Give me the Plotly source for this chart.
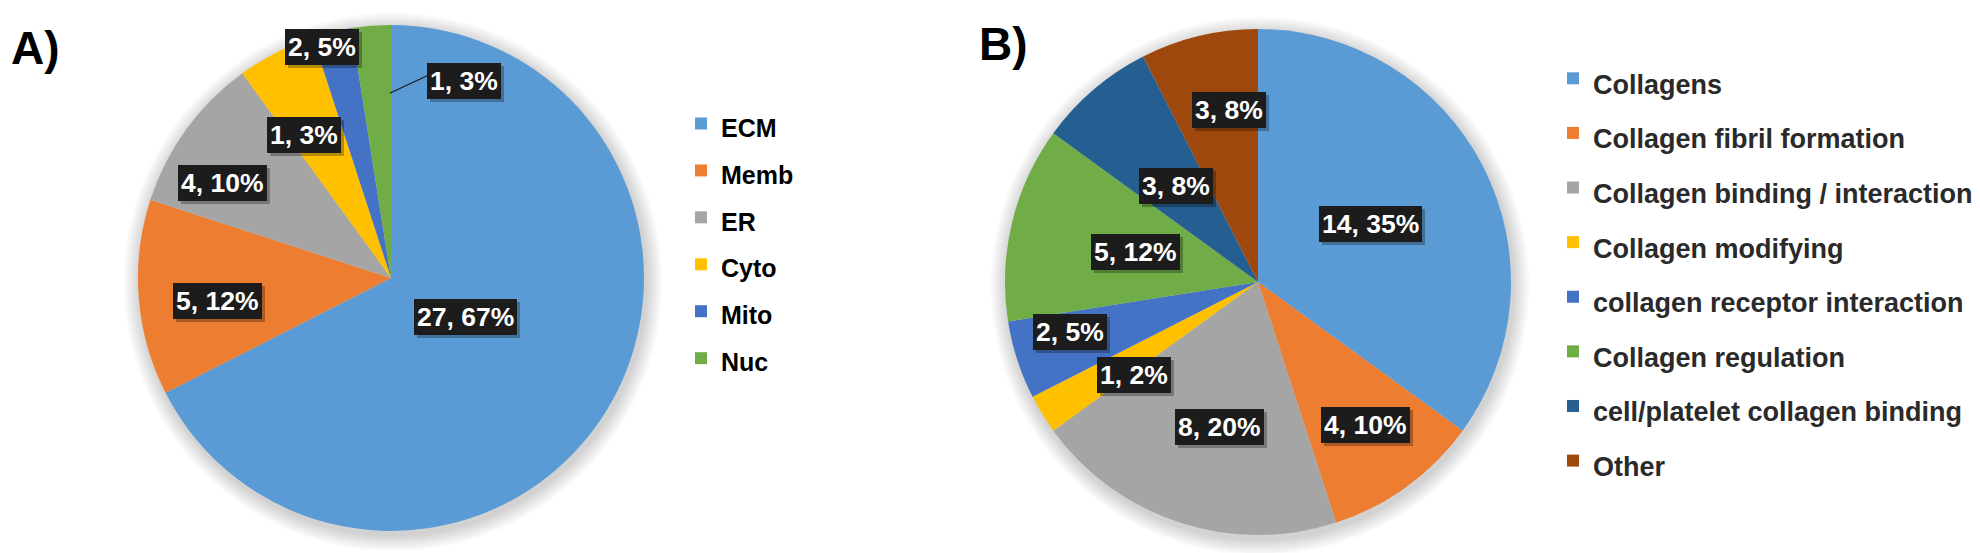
import math
import plotly.graph_objects as go

# ---------------- data ----------------
labels_a = ["ECM", "Memb", "ER", "Cyto", "Mito", "Nuc"]
counts_a = [27, 5, 4, 2, 1, 1]
pct_a = [67, 12, 10, 5, 3, 3]

labels_b = ["Collagens", "Collagen fibril formation", "Collagen binding / interaction",
            "Collagen modifying", "collagen receptor interaction", "Collagen regulation",
            "cell/platelet collagen binding", "Other"]
counts_b = [14, 4, 8, 1, 2, 5, 3, 3]
pct_b = [35, 10, 20, 2, 5, 12, 8, 8]

panel_titles = ["A)", "B)"]

# ---------------- style ----------------
colors_a = ["#5B9BD5", "#ED7D31", "#A5A5A5", "#FFC000", "#4472C4", "#70AD47"]
colors_b = ["#5B9BD5", "#ED7D31", "#A5A5A5", "#FFC000", "#4472C4", "#70AD47", "#255E91", "#9E480E"]

W, H = 1980, 553
FONT = "Liberation Sans, Arial, sans-serif"
PIE_A = dict(cx=383, cy=270, r=253)
PIE_B = dict(cx=1250, cy=274, r=253)
LABEL_SIZE = 26.5
# label placement: angle offset from slice mid-angle (deg) and radial fraction
lab_off_a = [(-4, 0.334), (-3, 0.69), (-6.5, 0.763), (10.3, 0.953), (-17.7, 0.663), (24.9, 0.83)]
lab_off_b = [(-0.4, 0.50), (-1, 0.708), (-3.1, 0.593), (-5.4, 0.613), (3.1, 0.769),
             (0.2, 0.50), (0, 0.50), (3.8, 0.69)]


def px2paper(x, y):
    return x / W, 1 - y / H


def domain(p):
    x0, y0 = px2paper(p["cx"] - p["r"], p["cy"] + p["r"])
    x1, y1 = px2paper(p["cx"] + p["r"], p["cy"] - p["r"])
    return dict(x=[x0, x1], y=[y0, y1])


def mid_angles(vals):
    tot = sum(vals)
    out, c = [], 0
    for v in vals:
        out.append((c + v / 2) / tot * 360)
        c += v
    return out


fig = go.Figure()
fig.add_trace(go.Pie(
    labels=[f'<span style="font-size:25px">{l}</span>' for l in labels_a],
    values=counts_a, sort=False, direction="clockwise", rotation=0,
    marker=dict(colors=colors_a, line=dict(width=0)), textinfo="none",
    domain=domain(PIE_A), legend="legend", hoverinfo="label+value+percent"))
fig.add_trace(go.Pie(
    labels=[f'<span style="font-size:27px">{l}</span>' for l in labels_b],
    values=counts_b, sort=False, direction="clockwise", rotation=0,
    marker=dict(colors=colors_b, line=dict(width=0)), textinfo="none",
    domain=domain(PIE_B), legend="legend2", hoverinfo="label+value+percent"))

shapes = []
annotations = []

# soft shadows behind pies
for p in (PIE_A, PIE_B):
    for k in range(1, 10):
        rr = p["r"] + k * 1.8
        cx, cy = p["cx"] + 2, p["cy"] + 4
        x0, y0 = px2paper(cx - rr, cy + rr)
        x1, y1 = px2paper(cx + rr, cy - rr)
        shapes.append(dict(type="circle", xref="paper", yref="paper", layer="below",
                           x0=x0, x1=x1, y0=y0, y1=y1, line=dict(width=0),
                           fillcolor="rgba(0,0,0,0.02)"))


def add_labels(p, counts, pcts, offs):
    mids = mid_angles(counts)
    pos = []
    for c, pc, m, (da, fr) in zip(counts, pcts, mids, offs):
        th = math.radians(m + da)
        x = p["cx"] + fr * p["r"] * math.sin(th)
        y = p["cy"] - fr * p["r"] * math.cos(th)
        xp, yp = px2paper(x, y)
        txt = f"<b>{c}, {pc}%</b>"
        common = dict(x=xp, y=yp, xref="paper", yref="paper", text=txt, showarrow=False,
                      xanchor="center", yanchor="middle", borderpad=3, borderwidth=0)
        annotations.append(dict(common, xshift=3, yshift=-3,
                                font=dict(family=FONT, size=LABEL_SIZE, color="rgba(0,0,0,0)"),
                                bgcolor="rgba(0,0,0,0.28)"))
        annotations.append(dict(common,
                                font=dict(family=FONT, size=LABEL_SIZE, color="white"),
                                bgcolor="#1c1c1c"))
        pos.append((x, y))
    return pos


pos_a = add_labels(PIE_A, counts_a, pct_a, lab_off_a)
add_labels(PIE_B, counts_b, pct_b, lab_off_b)

# leader line for the last (Nuc) slice label
th = math.radians(359.6)
sx = PIE_A["cx"] + 0.73 * PIE_A["r"] * math.sin(th)
sy = PIE_A["cy"] - 0.73 * PIE_A["r"] * math.cos(th)
ex, ey = pos_a[-1][0] - 36, pos_a[-1][1] - 6
x0, y0 = px2paper(sx, sy)
x1, y1 = px2paper(ex, ey)
shapes.append(dict(type="line", xref="paper", yref="paper", x0=x0, y0=y0, x1=x1, y1=y1,
                   line=dict(color="#1c1c1c", width=1.2)))

# panel titles
for t, (tx, ty) in zip(panel_titles, [(2, 13), (970, 9)]):
    xp, yp = px2paper(tx, ty)
    annotations.append(dict(x=xp, y=yp, xref="paper", yref="paper", text=f"<b>{t}</b>",
                            showarrow=False, xanchor="left", yanchor="top", borderwidth=0,
                            font=dict(family=FONT, size=46, color="black")))

lxa, lya = px2paper(673, 87)
lxb, lyb = px2paper(1545, 38)
fig.update_layout(
    width=W, height=H, margin=dict(l=0, r=0, t=0, b=0),
    paper_bgcolor="white", plot_bgcolor="white",
    shapes=shapes, annotations=annotations,
    legend=dict(x=lxa, y=lya, xanchor="left", yanchor="top", bgcolor="rgba(0,0,0,0)",
                font=dict(family=FONT, size=33.8, color="black", weight="bold")),
    legend2=dict(x=lxb, y=lyb, xanchor="left", yanchor="top", bgcolor="rgba(0,0,0,0)",
                 font=dict(family=FONT, size=39.7, color="#2a2a2a", weight="bold")),
)

fig.write_html("out.html")
